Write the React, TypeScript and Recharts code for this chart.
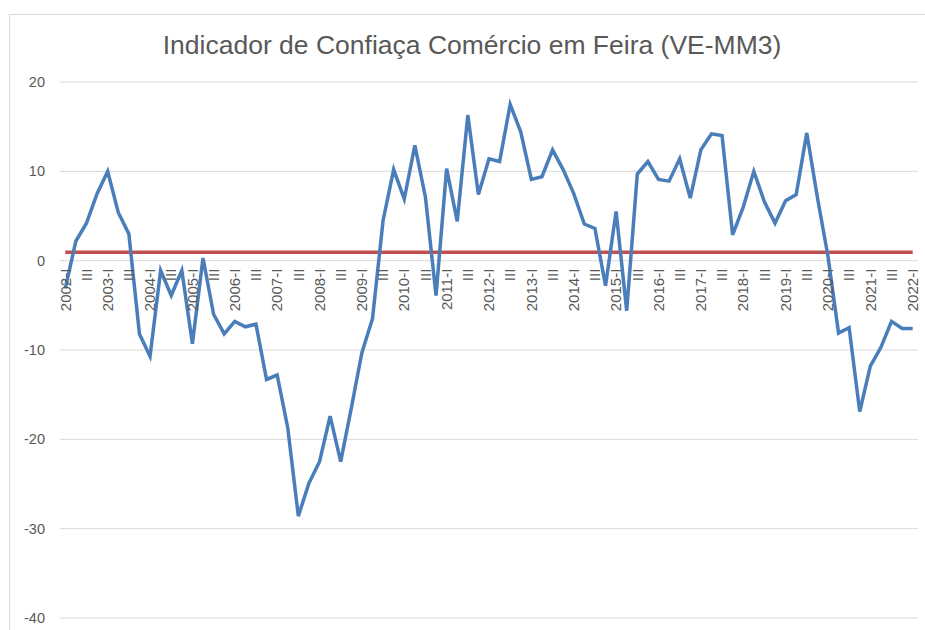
import React from 'react';
import { LineChart, Line, XAxis, YAxis, CartesianGrid } from 'recharts';

const years = [2002, 2003, 2004, 2005, 2006, 2007, 2008, 2009, 2010, 2011, 2012, 2013, 2014, 2015, 2016, 2017, 2018, 2019, 2020, 2021, 2022];
const quarters = ['I', 'II', 'III', 'IV'];

const confidence = [
  -3.1, 2.2, 4.2, 7.5, 10.0, 5.4, 3.0, -8.2, -10.7, -1.1, -3.9, -1.1, -9.3, 0.3, -6.0, -8.2,
  -6.8, -7.4, -7.1, -13.3, -12.8, -18.7, -28.6, -24.9, -22.5, -17.4, -22.5, -16.5, -10.3, -6.5,
  4.5, 10.2, 6.9, 12.9, 7.1, -3.9, 10.3, 4.4, 16.3, 7.4, 11.4, 11.1, 17.5, 14.4, 9.1, 9.4, 12.4,
  10.2, 7.5, 4.1, 3.6, -2.8, 5.5, -5.6, 9.7, 11.1, 9.1, 8.9, 11.4, 7.0, 12.4, 14.2, 14.0, 2.9,
  6.0, 10.0, 6.6, 4.2, 6.7, 7.4, 14.3, 7.1, 0.5, -8.1, -7.5, -16.9, -11.8, -9.7, -6.8, -7.6, -7.6,
];

const reference = 0.95;

const yTicks = [-40, -30, -20, -10, 0, 10, 20];
const Y_MIN = -40;
const Y_MAX = 20;

const title = 'Indicador de Confiaça Comércio em Feira (VE-MM3)';

const labels: string[] = [];
years.forEach((y) => {
  quarters.forEach((q) => {
    labels.push(q === 'I' ? `${y}-I` : q);
  });
});

const data = confidence.map((v, i) => ({ label: labels[i], value: v, ref: reference }));

const W = 925;
const H = 630;
const MARGIN = { top: 82, right: 7, bottom: 11, left: 0 };
const X_AXIS_H = 1;
const PLOT_H = H - MARGIN.top - MARGIN.bottom - X_AXIS_H;
const ZERO_Y = MARGIN.top + (PLOT_H * (Y_MAX - 0)) / (Y_MAX - Y_MIN);

const FONT = '"Liberation Sans", Arial, sans-serif';
const TEXT = '#595959';

const XTick = (props: any) => {
  const { x, payload } = props;
  const y = ZERO_Y + 8;
  return (
    <text
      x={x}
      y={y}
      transform={`rotate(-90 ${x} ${y})`}
      textAnchor="end"
      dy="0.35em"
      fontSize={15}
      fill={TEXT}
      fontFamily={FONT}
    >
      {payload.value}
    </text>
  );
};

export default function App() {
  return (
    <div
      style={{
        position: 'absolute',
        left: 0,
        top: 0,
        width: W,
        height: H,
        background: '#fff',
        overflow: 'hidden',
        fontFamily: FONT,
      }}
    >
      <div
        style={{
          position: 'absolute',
          left: 9,
          top: 14,
          width: 1200,
          height: 1200,
          border: '1px solid #d9d9d9',
        }}
      />
      <div
        style={{
          position: 'absolute',
          left: 0,
          top: 29,
          width: 944,
          textAlign: 'center',
          fontSize: 26.5,
          color: TEXT,
          lineHeight: '32px',
          whiteSpace: 'nowrap',
        }}
      >
        {title}
      </div>
      <div style={{ position: 'absolute', left: 0, top: 0 }}>
        <LineChart width={W} height={H} data={data} margin={MARGIN}>
          <CartesianGrid vertical={false} stroke="#d9d9d9" strokeWidth={1} />
          <XAxis
            dataKey="label"
            interval={1}
            height={X_AXIS_H}
            axisLine={false}
            tickLine={false}
            padding={{ left: 5.3, right: 5.3 }}
            tick={<XTick />}
          />
          <YAxis
            domain={[Y_MIN, Y_MAX]}
            ticks={yTicks}
            width={60}
            axisLine={false}
            tickLine={false}
            tickSize={0}
            tickMargin={15}
            tick={{ fill: TEXT, fontSize: 14.5, fontFamily: FONT }}
          />
          <Line
            type="linear"
            dataKey="ref"
            stroke="#c0504d"
            strokeWidth={3.5}
            dot={false}
            isAnimationActive={false}
          />
          <Line
            type="linear"
            dataKey="value"
            stroke="#4a7ebb"
            strokeWidth={3.5}
            dot={false}
            isAnimationActive={false}
          />
        </LineChart>
      </div>
    </div>
  );
}
